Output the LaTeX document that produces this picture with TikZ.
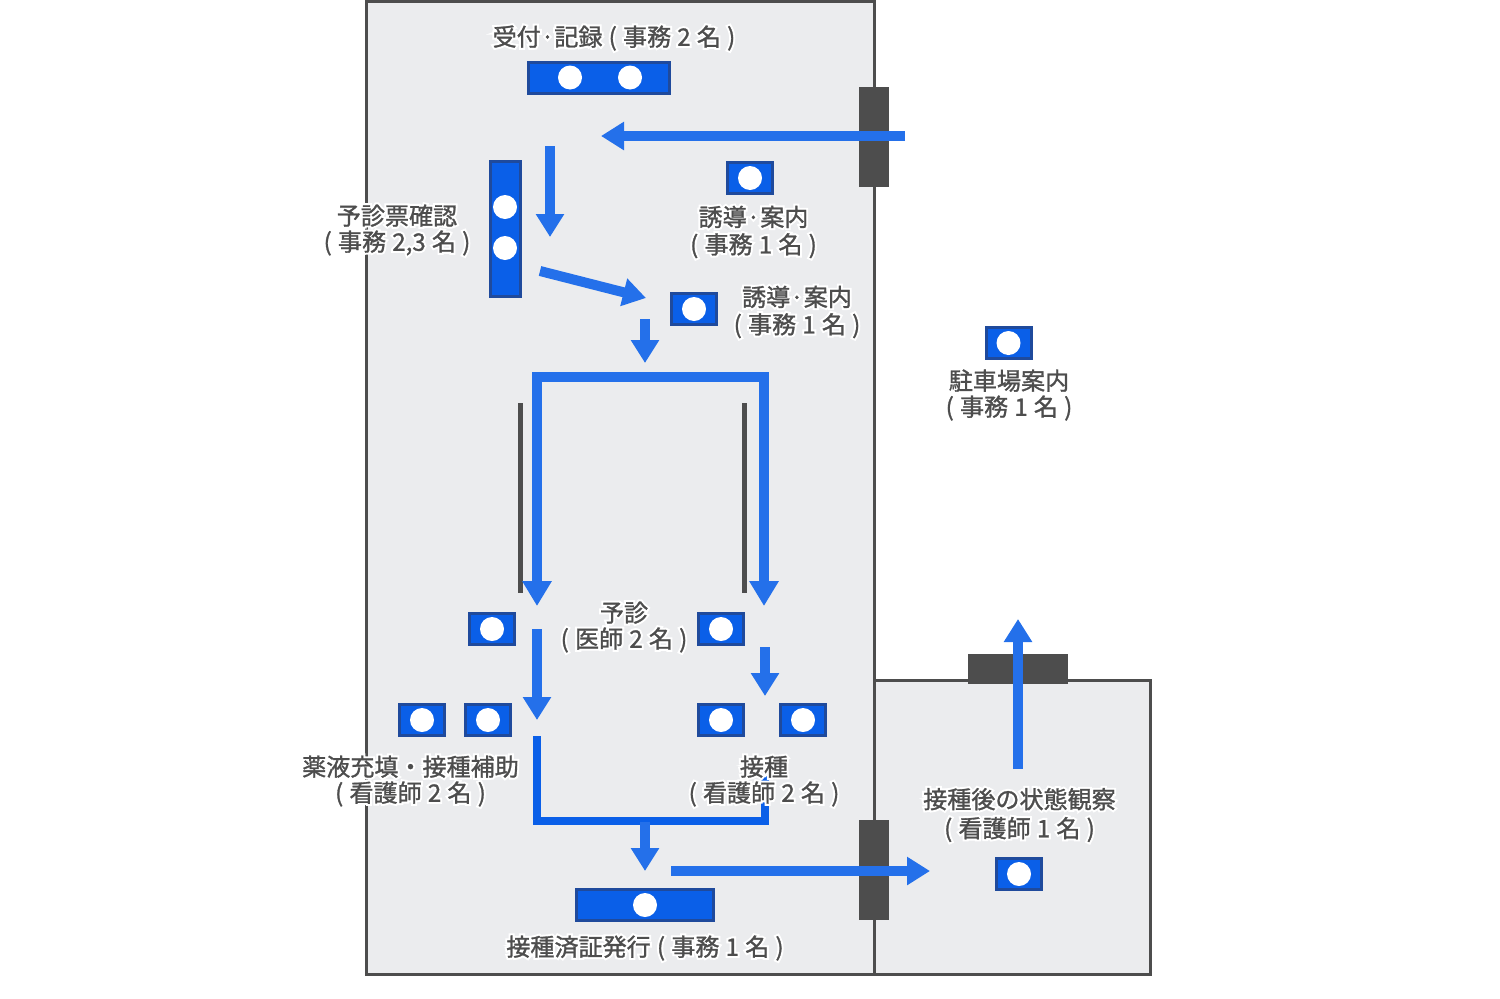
\documentclass[tikz,border=0pt]{standalone}
\usepackage{fontspec}
\setmainfont[WordSpace=1.15,FakeBold=1.2]{Noto Sans CJK JP}
\newfontfamily\halofont[FakeBold=18,Color=FFFFFF,WordSpace=1.15]{Noto Sans CJK JP}
\usetikzlibrary{arrows.meta}
\definecolor{roomfill}{HTML}{EBECEE}
\definecolor{wallgray}{HTML}{4D4D4D}
\definecolor{deskblue}{HTML}{0A5FE8}
\definecolor{deskedge}{HTML}{1F4A9C}
\definecolor{flowblue}{HTML}{2470EA}
\tikzset{
  room/.style={draw=wallgray,fill=roomfill,line width=0.6mm},
  door/.style={draw=none,fill=wallgray,rectangle,inner sep=0},
  pole/.style={draw=wallgray,line width=1mm},
  desk/.style={draw=deskedge,fill=deskblue,rectangle,line width=0.6mm,inner sep=0,minimum width=9mm,minimum height=6.2mm},
  dot/.style={fill=white,circle,inner sep=0,minimum size=4.8mm},
  flow/.style={draw=flowblue,line width=2mm,-{Triangle[length=4.6mm,width=5.4mm]}},
  route/.style={draw=flowblue,line width=2mm,{Triangle[length=5mm,width=5.6mm]}-{Triangle[length=5mm,width=5.6mm]}},
  merge/.style={draw=deskblue,line width=1.6mm},
  lbl/.style={font=\fontsize{13.7}{14.8}\selectfont,text=wallgray,align=center,inner sep=0},
}
\newcommand{\hl}[1]{\rlap{\halofont #1}#1}
\begin{document}
\begin{tikzpicture}[x=0.02cm,y=-0.02cm]
\useasboundingbox (0,0) rectangle (1500,998);
% --- rooms ---
\draw[room] (366.5,1) rectangle (874.5,974);
\draw[room] (874.5,680.5) rectangle (1150.5,974);
% --- doors ---
\node[door,minimum width=6mm,minimum height=20mm] (doorin) at (874,137) {};
\node[door,minimum width=6mm,minimum height=20mm] (doorobs) at (874,870) {};
\node[door,minimum width=20mm,minimum height=6mm] (doorout) at (1017.5,669) {};
% --- poles ---
\coordinate (poleAt) at (520,403); \coordinate (poleAb) at (520,593);
\coordinate (poleBt) at (744,403); \coordinate (poleBb) at (744,593);
\draw[pole] (poleAt) -- (poleAb);
\draw[pole] (poleBt) -- (poleBb);
% --- desks with one person ---
\foreach \n/\x/\y in {guide/750/178, lead/694/309, park/1008.5/343, docA/492/629, docB/721/629,
    fillA/422/720, fillB/488/720, nurseA/721/720, nurseB/803/720, obs/1019/874}{
  \node[desk] (\n) at (\x,\y) {};
  \node[dot] (\n dot) at (\n) {};
}
% --- long desks ---
\node[desk,minimum width=28.2mm] (recep) at (599.3,77.5) {};
\node[dot] (recepA) at (570,77.5) {};
\node[dot] (recepB) at (630,77.5) {};
\node[desk,minimum width=6mm,minimum height=27mm] (check) at (505,229) {};
\node[dot] (checkA) at (505,207) {};
\node[dot] (checkB) at (505,248) {};
\node[desk,minimum width=27.4mm] (issue) at (645,905) {};
\node[dot] (issueA) at (645,905) {};
% --- flow, upper part ---
\coordinate (inS) at (905,136);   \coordinate (inE) at (601,136);
\coordinate (chkS) at (550,146);  \coordinate (chkE) at (550,237);
\coordinate (ledS) at (540,271);  \coordinate (ledE) at (646,298);
\coordinate (splS) at (645,319);  \coordinate (splE) at (645,363);
\draw[flow] (inS) -- (inE);
\draw[flow] (chkS) -- (chkE);
\draw[flow] (ledS) -- (ledE);
\draw[flow] (splS) -- (splE);
% --- two lanes ---
\coordinate (laneA) at (537,606); \coordinate (laneB) at (764,606);
\coordinate (laneAt) at (537,377); \coordinate (laneBt) at (764,377);
\draw[route] (laneA) -- (laneAt) -- (laneBt) -- (laneB);
\coordinate (fillS) at (537,629);  \coordinate (fillE) at (537,720);
\coordinate (nurseS) at (765,647); \coordinate (nurseE) at (765,696);
\draw[flow] (fillS) -- (fillE);
\draw[flow] (nurseS) -- (nurseE);
% --- merge and exit ---
\coordinate (mrgA) at (537,736); \coordinate (mrgAb) at (537,821);
\coordinate (mrgB) at (765,775); \coordinate (mrgBb) at (765,821);
\draw[merge] (mrgA) -- (mrgAb) -- (mrgBb) -- (mrgB);
\coordinate (isuS) at (645,822);  \coordinate (isuE) at (645,871);
\coordinate (obsS) at (671,871);  \coordinate (obsE) at (930,871);
\coordinate (outS) at (1018,769); \coordinate (outE) at (1018,619);
\draw[flow] (isuS) -- (isuE);
\draw[flow] (obsS) -- (obsE);
\draw[flow] (outS) -- (outE);
% --- labels ---
\node[lbl] (recepL) at (614,38) {\hl{受付·記録 ( 事務 2 名 )}};
\node[lbl] (checkL) at (397,230) {\hl{予診票確認}\\\hl{( 事務 2,3 名 )}};
\node[lbl] (guideL) at (753.5,232) {\hl{誘導·案内}\\[0.8pt]\hl{( 事務 1 名 )}};
\node[lbl] (leadL) at (797,312) {\hl{誘導·案内}\\[0.8pt]\hl{( 事務 1 名 )}};
\node[lbl] (parkL) at (1009,395) {\hl{駐車場案内}\\\hl{( 事務 1 名 )}};
\node[lbl] (docL) at (624,627) {\hl{予診}\\\hl{( 医師 2 名 )}};
\node[lbl] (fillL) at (410.5,781) {\hl{薬液充填・接種補助}\\\hl{( 看護師 2 名 )}};
\node[lbl] (nurseL) at (764,781) {\hl{接種}\\\hl{( 看護師 2 名 )}};
\node[lbl] (obsL) at (1019.5,815) {\hl{接種後の状態観察}\\[1.7pt]\hl{( 看護師 1 名 )}};
\node[lbl] (issueL) at (645,948) {\hl{接種済証発行 ( 事務 1 名 )}};
\end{tikzpicture}
\end{document}
